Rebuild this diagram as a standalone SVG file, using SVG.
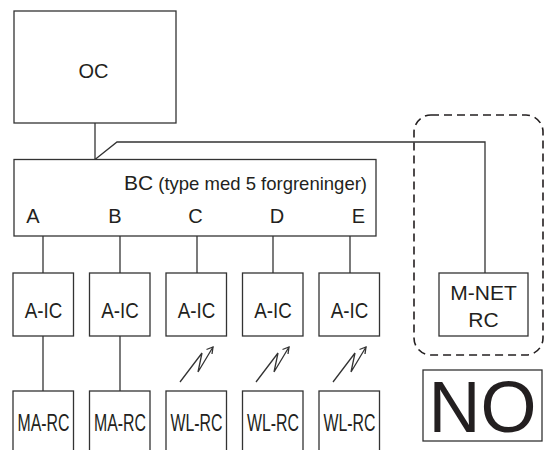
<svg xmlns="http://www.w3.org/2000/svg" width="544" height="450" viewBox="0 0 544 450">
<defs>
<style>
.box{fill:#fff;stroke:#333;stroke-width:1.3}
.ln{fill:none;stroke:#333;stroke-width:1.3}
.t{font-family:"Liberation Sans",Arial,sans-serif;fill:#231f20;text-anchor:middle}
.dash{fill:none;stroke:#231f20;stroke-width:1.6;stroke-dasharray:8 5}
</style>
<g id="bolt">
<polyline class="ln" stroke-width="1.1" points="-17,382 5,353 1,372 16,347"/>
<polyline class="ln" stroke-width="1.1" points="9.5,349.5 16,347 15,354"/>
</g>
</defs>
<rect width="544" height="450" fill="#fff"/>
<g id="connectors">
<line class="ln" x1="95" y1="123" x2="95" y2="159.5"/>
<polyline class="ln" points="95,159.5 117,142 485,142 485,273"/>
<line class="ln" x1="43" y1="236" x2="43" y2="273"/>
<line class="ln" x1="120" y1="236" x2="120" y2="273"/>
<line class="ln" x1="197" y1="236" x2="197" y2="273"/>
<line class="ln" x1="273" y1="236" x2="273" y2="273"/>
<line class="ln" x1="350" y1="236" x2="350" y2="273"/>
<line class="ln" x1="43" y1="336" x2="43" y2="391"/>
<line class="ln" x1="120" y1="336" x2="120" y2="391"/>
<use href="#bolt" x="197"/>
<use href="#bolt" x="273"/>
<use href="#bolt" x="350"/>
</g>
<rect class="dash" x="414" y="115" width="129" height="240" rx="17"/>
<g id="oc">
<rect class="box" x="14" y="11" width="162" height="112"/>
<text class="t" x="93.5" y="78" font-size="20">OC</text>
</g>
<g id="bc">
<rect class="box" x="14" y="159.5" width="362" height="76.5"/>
<text class="t" x="367" y="190" text-anchor="end" style="text-anchor:end"><tspan font-size="21">BC</tspan><tspan font-size="18.5"> (type med 5 forgreninger)</tspan></text>
<text class="t" x="33" y="223" font-size="20">A</text>
<text class="t" x="115" y="223" font-size="20">B</text>
<text class="t" x="195.5" y="223" font-size="20">C</text>
<text class="t" x="277" y="223" font-size="20">D</text>
<text class="t" x="358.5" y="223" font-size="20">E</text>
</g>
<g id="aic1"><rect class="box" x="13" y="273" width="60.5" height="63"/><text class="t" x="43.5" y="318" font-size="22" textLength="37.5" lengthAdjust="spacingAndGlyphs">A-IC</text></g>
<g id="aic2"><rect class="box" x="89.5" y="273" width="60.5" height="63"/><text class="t" x="120" y="318" font-size="22" textLength="37.5" lengthAdjust="spacingAndGlyphs">A-IC</text></g>
<g id="aic3"><rect class="box" x="166" y="273" width="60.5" height="63"/><text class="t" x="196.5" y="318" font-size="22" textLength="37.5" lengthAdjust="spacingAndGlyphs">A-IC</text></g>
<g id="aic4"><rect class="box" x="242.5" y="273" width="60.5" height="63"/><text class="t" x="273" y="318" font-size="22" textLength="37.5" lengthAdjust="spacingAndGlyphs">A-IC</text></g>
<g id="aic5"><rect class="box" x="319" y="273" width="60.5" height="63"/><text class="t" x="349.5" y="318" font-size="22" textLength="37.5" lengthAdjust="spacingAndGlyphs">A-IC</text></g>
<g id="marc1"><rect class="box" x="13" y="391" width="60.5" height="70"/><text class="t" x="43.5" y="431" font-size="23" textLength="52" lengthAdjust="spacingAndGlyphs">MA-RC</text></g>
<g id="marc2"><rect class="box" x="89.5" y="391" width="60.5" height="70"/><text class="t" x="120" y="431" font-size="23" textLength="52" lengthAdjust="spacingAndGlyphs">MA-RC</text></g>
<g id="wlrc1"><rect class="box" x="166" y="391" width="60.5" height="70"/><text class="t" x="196.5" y="431" font-size="23" textLength="52" lengthAdjust="spacingAndGlyphs">WL-RC</text></g>
<g id="wlrc2"><rect class="box" x="242.5" y="391" width="60.5" height="70"/><text class="t" x="273" y="431" font-size="23" textLength="52" lengthAdjust="spacingAndGlyphs">WL-RC</text></g>
<g id="wlrc3"><rect class="box" x="319" y="391" width="60.5" height="70"/><text class="t" x="349.5" y="431" font-size="23" textLength="52" lengthAdjust="spacingAndGlyphs">WL-RC</text></g>
<g id="mnetrc"><rect class="box" x="439" y="273" width="89" height="63"/><text class="t" x="483.5" y="300" font-size="21">M-NET</text><text class="t" x="483.5" y="327" font-size="21">RC</text></g>
<g id="no"><rect class="box" x="423" y="370" width="119" height="71"/><text class="t" x="482.5" y="432" font-size="72">NO</text></g>
</svg>
